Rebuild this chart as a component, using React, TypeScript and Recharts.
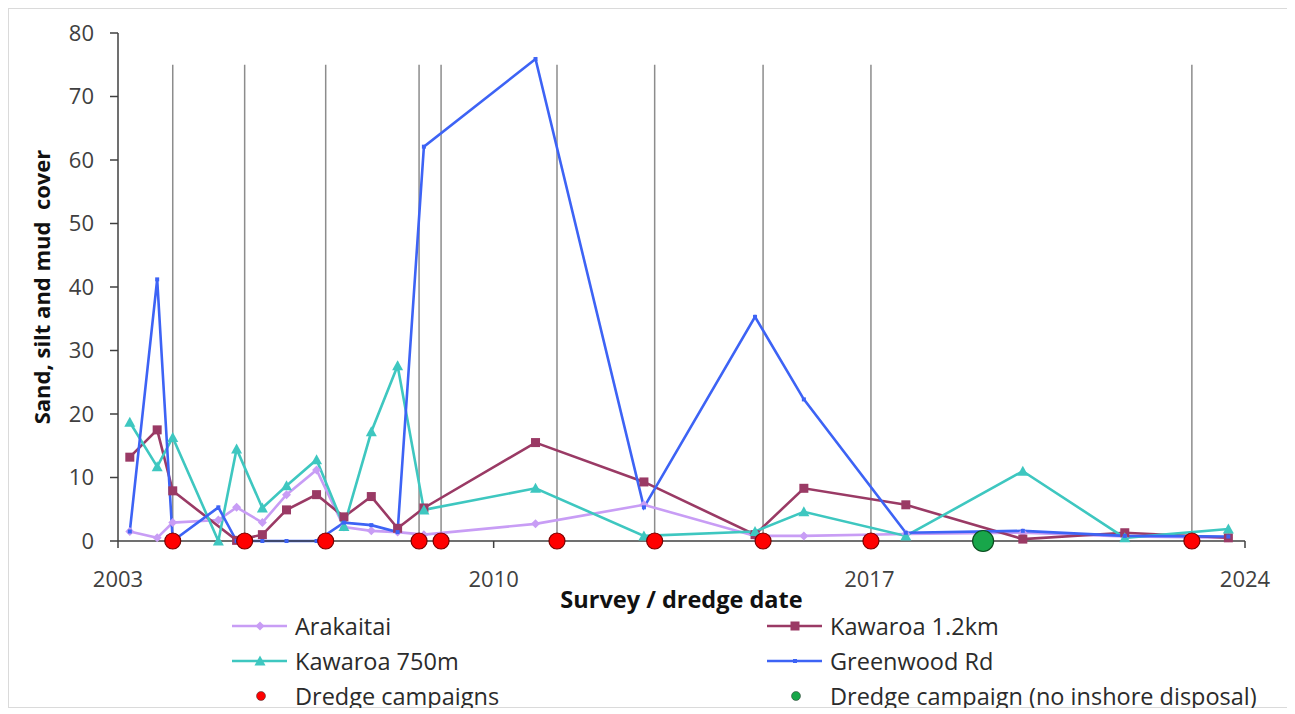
import React from 'react';
import { ComposedChart, Line, Scatter, XAxis, YAxis, ReferenceLine } from 'recharts';

// survey dates as decimal years
const surveyDates = [2003.22, 2003.73, 2004.02, 2004.87, 2005.21, 2005.69, 2006.14, 2006.7, 2007.21, 2007.72, 2008.21, 2008.7, 2010.78, 2012.8, 2014.87, 2015.78, 2017.68, 2019.86, 2021.76, 2023.69];

const arakaitai = [1.5, 0.5, 2.9, 3.3, 5.3, 2.9, 7.3, 11.2, 2.2, 1.6, 1.4, 1.0, 2.7, 5.7, 0.8, 0.8, 1.1, 1.3, 0.7, 0.5];
const kawaroa12 = [13.2, 17.5, 7.9, null, 0.1, 1.0, 4.9, 7.3, 3.8, 7.0, 2.0, 5.2, 15.5, 9.3, 1.0, 8.3, 5.7, 0.3, 1.3, 0.5];
const kawaroa750 = [18.7, 11.7, 16.3, 0, 14.5, 5.2, 8.7, 12.8, 2.3, 17.2, 27.6, 4.9, 8.3, 0.8, 1.5, 4.6, 0.8, 11.0, 0.5, 1.9];
const greenwood = [1.5, 41.2, 0, 5.3, 0, 0, 0, 0, 2.9, 2.5, 1.4, 62.1, 75.9, 5.3, 35.3, 22.3, 1.3, 1.6, 0.8, 0.7];

const dredgeDates = [2004.02, 2005.36, 2006.87, 2008.61, 2009.02, 2011.18, 2013.0, 2015.02, 2017.03, 2023.01];
const dredgeNoInshore = [2019.12];

const yearTicks = [2003, 2010, 2017, 2024];
const valueTicks = [0, 10, 20, 30, 40, 50, 60, 70, 80];
const LINE_TOP = 75;

const toPoints = (vals: (number | null)[]) =>
  surveyDates.map((x, i) => ({ x, v: vals[i] })).filter((p) => p.v !== null);

const series = [
  { name: 'Arakaitai', color: '#c89df5', shape: 'diamond', data: toPoints(arakaitai) },
  { name: 'Kawaroa 1.2km', color: '#9a3a65', shape: 'square', data: toPoints(kawaroa12) },
  { name: 'Kawaroa 750m', color: '#3ec7c0', shape: 'triangle', data: toPoints(kawaroa750) },
  { name: 'Greenwood Rd', color: '#3d63f5', shape: 'dash', data: toPoints(greenwood) },
];

const Marker = ({ cx, cy, shape, color }: any) => {
  if (cx == null || cy == null) return null;
  if (shape === 'diamond')
    return <path d={`M${cx},${cy - 4.5} L${cx + 4.5},${cy} L${cx},${cy + 4.5} L${cx - 4.5},${cy} Z`} fill={color} />;
  if (shape === 'square') return <rect x={cx - 4.5} y={cy - 4.5} width={9} height={9} fill={color} />;
  if (shape === 'triangle')
    return <path d={`M${cx},${cy - 5.5} L${cx + 5.5},${cy + 4.5} L${cx - 5.5},${cy + 4.5} Z`} fill={color} />;
  return <rect x={cx - 2} y={cy - 2} width={4} height={4} fill={color} />;
};

const Dot = ({ cx, cy, r, fill, stroke }: any) => (
  <circle cx={cx} cy={cy} r={r} fill={fill} stroke={stroke} strokeWidth={1.2} />
);

const font = '"Open Sans", "Noto Sans", sans-serif';

const App: React.FC = () => {
  return (
    <div style={{ position: 'relative', width: 1279, height: 698, border: '1px solid #dadada', fontFamily: font, background: '#fff' }}>
      <div style={{ position: 'absolute', left: -9, top: -9 }}>
        <ComposedChart width={1295} height={640} margin={{ top: 33, right: 50, left: 0, bottom: 30 }}>
          <XAxis
            dataKey="x"
            type="number"
            domain={[2003, 2024]}
            ticks={yearTicks}
            tickSize={7}
            tickMargin={23}
            height={69}
            stroke="#404040"
            strokeWidth={1.5}
            tick={{ fill: '#404040', fontSize: 22, fontFamily: font }}
            label={{ value: 'Survey / dredge date', position: 'insideBottom', offset: 2, fill: '#111', fontSize: 23.5, fontWeight: 700, fontFamily: font }}
          />
          <YAxis
            type="number"
            domain={[0, 80]}
            ticks={valueTicks}
            width={118}
            tickSize={8}
            tickMargin={16}
            stroke="#404040"
            strokeWidth={1.5}
            tick={{ fill: '#404040', fontSize: 22, fontFamily: font }}
            label={{ value: 'Sand, silt and mud\u00a0 cover', angle: -90, position: 'insideLeft', offset: 42, fill: '#111', fontSize: 22, fontWeight: 700, fontFamily: font, style: { textAnchor: 'middle' } }}
          />
          {dredgeDates.map((d) => (
            <ReferenceLine key={`rl-${d}`} segment={[{ x: d, y: 0 }, { x: d, y: LINE_TOP }]} stroke="#8c8c8c" strokeWidth={1.5} />
          ))}
          {series.map((s) => (
            <Line
              key={s.name}
              data={s.data}
              dataKey="v"
              name={s.name}
              stroke={s.color}
              strokeWidth={2.6}
              type="linear"
              isAnimationActive={false}
              dot={(p: any) => <Marker key={`${s.name}-${p.index}`} cx={p.cx} cy={p.cy} shape={s.shape} color={s.color} />}
              activeDot={false}
            />
          ))}
          <Scatter
            data={dredgeDates.map((x) => ({ x, y: 0 }))}
            dataKey="y"
            isAnimationActive={false}
            shape={(p: any) => <Dot cx={p.cx} cy={p.cy} r={8} fill="#ff0000" stroke="#7a0000" />}
          />
          <Scatter
            data={dredgeNoInshore.map((x) => ({ x, y: 0 }))}
            dataKey="y"
            isAnimationActive={false}
            shape={(p: any) => <Dot cx={p.cx} cy={p.cy} r={10.5} fill="#18a64a" stroke="#0b4d1f" />}
          />
        </ComposedChart>
      </div>
      <Legend />
    </div>
  );
};

const legendItems = [
  ...series.map((s) => ({ name: s.name, color: s.color, kind: 'line', shape: s.shape })),
  { name: 'Dredge campaigns', color: '#ff0000', kind: 'dot', shape: '' },
  { name: 'Dredge campaign (no inshore disposal)', color: '#18a64a', kind: 'dot', shape: '' },
];

const Legend: React.FC = () => (
  <>
    {legendItems.map((item, i) => {
      const col = i % 2;
      const row = Math.floor(i / 2);
      const left = (col === 0 ? 232 : 767) - 9;
      const top = 626 + row * 35 - 9;
      return (
        <div key={item.name} style={{ position: 'absolute', left, top: top - 16, height: 32, display: 'flex', alignItems: 'center' }}>
          <svg width={58} height={28} style={{ display: 'block' }}>
            {item.kind === 'line' ? (
              <>
                <line x1={0} y1={14} x2={55} y2={14} stroke={item.color} strokeWidth={2.6} />
                <Marker cx={28} cy={14} shape={item.shape} color={item.color} />
              </>
            ) : (
              <circle cx={29} cy={14} r={4.5} fill={item.color} stroke="#333" strokeWidth={0.5} />
            )}
          </svg>
          <span style={{ fontSize: 23.5, color: '#2b2b2b', marginLeft: 5, whiteSpace: 'nowrap' }}>{item.name}</span>
        </div>
      );
    })}
  </>
);

export default App;
